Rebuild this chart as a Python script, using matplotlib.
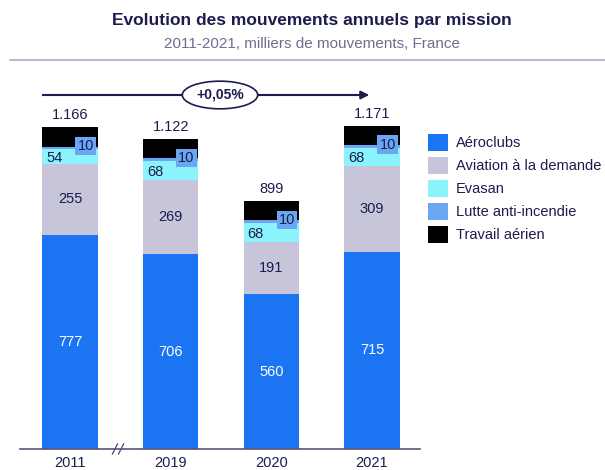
import matplotlib.pyplot as plt
from matplotlib.lines import Line2D
from matplotlib.patches import Patch

plt.rcParams['font.family'] = ['Liberation Sans', 'DejaVu Sans']

years = ['2011', '2019', '2020', '2021']
aeroclubs = [777, 706, 560, 715]
aviation = [255, 269, 191, 309]
evasan = [54, 68, 68, 68]
lutte = [10, 10, 10, 10]
travail = [70, 69, 70, 69]
totals = ['1.166', '1.122', '899', '1.171']
growth = '+0,05%'

names = ['Aéroclubs', 'Aviation à la demande', 'Evasan', 'Lutte anti-incendie', 'Travail aérien']
colors = ['#1b74f2', '#c6c5d9', '#8af3fb', '#6aa6f2', '#000000']
navy = '#1c1c4e'

W, H = 605, 470
fig = plt.figure(figsize=(W / 100, H / 100), dpi=100)

# axes placed in pixel terms: baseline at y=449, x from 20 to 420
x0, x1 = 20, 420
ybase, ytop = 449, 90
ax = fig.add_axes([x0 / W, (H - ybase) / H, (x1 - x0) / W, (ybase - ytop) / H])
pxu = 100.67
ax.set_xlim((x0 - 70) / pxu, (x1 - 70) / pxu)
ymax = (ybase - ytop) / 0.276
ax.set_ylim(0, ymax)
for s in ax.spines.values():
    s.set_visible(False)
ax.set_xticks([])
ax.set_yticks([])

xs = list(range(len(years)))
bw = 0.55
series = [aeroclubs, aviation, evasan, lutte, travail]
bottom = [0] * len(years)
for vals, c in zip(series, colors):
    ax.bar(xs, vals, bw, bottom=bottom, color=c, edgecolor='none', zorder=2)
    bottom = [b + v for b, v in zip(bottom, vals)]

for i in xs:
    a, v, e, l, t = aeroclubs[i], aviation[i], evasan[i], lutte[i], travail[i]
    ax.text(i, a / 2, str(a), ha='center', va='center', color='white', fontsize=10.5, zorder=4)
    ax.text(i, a + v / 2, str(v), ha='center', va='center', color=navy, fontsize=10.5, zorder=4)
    ax.text(i - bw / 2 + 0.04, a + v + e / 2 - 5, str(e), ha='left', va='center',
            color=navy, fontsize=10.5, zorder=4)
    ax.text(i + bw / 2 - 0.12, a + v + e + l / 2 + 6, str(l), ha='center', va='center',
            color=navy, fontsize=10.5, zorder=5,
            bbox=dict(boxstyle='square,pad=0.15', fc=colors[3], ec='none'))
    ax.text(i, bottom[i] + 18, totals[i], ha='center', va='bottom', color=navy, fontsize=10.5)

# baseline and axis break
ax.plot([(x0 - 70) / pxu, (x1 - 70) / pxu], [0, 0], color='#55557a', lw=1.2,
        clip_on=False, zorder=3)
bx = (118 - 70) / pxu
for dx in (-0.03, 0.03):
    ax.plot([bx + dx - 0.025, bx + dx + 0.025], [-18, 18], color='#55557a', lw=1,
            clip_on=False, zorder=3)

for i, y in zip(xs, years):
    ax.text(i, -24, y, ha='center', va='top', color=navy, fontsize=10.5)

# growth arrow
ya = (ybase - 95) / 0.276
ax.annotate('', xy=(3, ya), xytext=((40 - 70) / pxu, ya),
            arrowprops=dict(arrowstyle='-|>', color=navy, lw=1.5, mutation_scale=12),
            annotation_clip=False)
ax.text((220 - 70) / pxu, ya, growth, ha='center', va='center', color=navy,
        fontsize=10, fontweight='bold', zorder=5,
        bbox=dict(boxstyle='ellipse,pad=0.2', fc='white', ec=navy, lw=1.2))

# legend
handles = [Patch(facecolor=c, edgecolor='none') for c in colors]
fig.legend(handles, names, loc='upper left', bbox_to_anchor=(422 / W, 1 - 128 / H),
           frameon=False, fontsize=10.5, handlelength=1.4, handleheight=1.4,
           handletextpad=0.5, labelspacing=0.42, labelcolor=navy, borderaxespad=0)

# titles
fig.text(0.515, 1 - 20 / H, 'Evolution des mouvements annuels par mission', ha='center',
         va='center', fontsize=12.5, fontweight='bold', color=navy)
fig.text(0.515, 1 - 44 / H, '2011-2021, milliers de mouvements, France', ha='center',
         va='center', fontsize=11, color='#6e6e90')
fig.add_artist(Line2D([10 / W, 1], [1 - 60 / H, 1 - 60 / H], color='#a9a9cc', lw=1.2))

fig.savefig('out.png', dpi=100)
